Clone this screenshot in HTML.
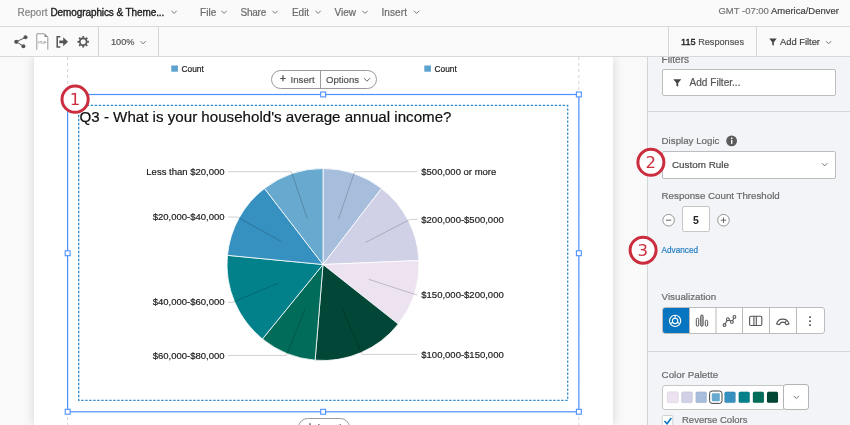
<!DOCTYPE html>
<html lang="en">
<head>
<meta charset="utf-8">
<title>Report - Demographics &amp; Themes</title>
<style>
*{box-sizing:border-box;margin:0;padding:0}
html,body{width:850px;height:425px;overflow:hidden;background:#f9f9f9;font-family:"Liberation Sans",Arial,sans-serif;color:#555}
.abs{position:absolute}
span.t{position:absolute;white-space:nowrap;font-size:10px;line-height:14px;-webkit-text-stroke:.2px currentColor}
#topbar{position:absolute;left:0;top:0;width:850px;height:27px;background:#fafafa;border-bottom:1px solid #dadada;color:#6b6b6b}
#toolbar{position:absolute;left:0;top:27px;width:850px;height:30px;background:#fafafa;border-bottom:1px solid #d8d8d8;color:#555}
#toolbar .sep{position:absolute;top:0;width:1px;height:29px;background:#d6d6d6}
#canvas{position:absolute;left:0;top:57px;width:647px;height:368px;background:#f9f9f9}
#page{position:absolute;left:34px;top:0;width:579px;height:368px;background:#fff;box-shadow:0 0 10px rgba(0,0,0,.15)}
#panel{overflow:hidden;position:absolute;left:647px;top:57px;width:203px;height:368px;background:#f3f4f8;border-left:1px solid #d3d4d8;color:#6a6a6a}
.box{position:absolute;background:#fff;border:1px solid #bdbdbd;border-radius:2px}
svg{position:absolute;overflow:visible}
</style>
</head>
<body>
<div id="canvas">
  <div id="page"></div>
</div>

<!-- page overlays drawn in absolute screen coordinates -->
<svg style="left:0;top:0" width="850" height="425" viewBox="0 0 850 425">
  <line x1="67.600" y1="57" x2="67.600" y2="425" stroke="#d4d4d4" stroke-width="1" stroke-dasharray="3 3"/>
  <line x1="578.800" y1="57" x2="578.800" y2="425" stroke="#d4d4d4" stroke-width="1" stroke-dasharray="3 3"/>
  <rect x="171.300" y="65.500" width="6.600" height="6.200" fill="#5ba2cf"/>
  <text x="181.600" y="71.500" font-family="Liberation Sans, Arial, sans-serif" font-size="8.300" fill="#222" stroke="#222" stroke-width=".2">Count</text>
  <rect x="424.300" y="65.500" width="6.600" height="6.200" fill="#5ba2cf"/>
  <text x="434.600" y="71.500" font-family="Liberation Sans, Arial, sans-serif" font-size="8.300" fill="#222" stroke="#222" stroke-width=".2">Count</text>
  <rect x="67.600" y="94.500" width="511.250" height="317.300" fill="#fff" stroke="#4d90fe" stroke-width="1.200"/>
  <rect x="78.700" y="105.400" width="489" height="294.900" fill="none" stroke="#2e8ccb" stroke-width="1.300" stroke-dasharray="2.400 1.600"/>
  <g fill="#fff" stroke="#4d90fe" stroke-width="1.100">
    <rect x="576.400" y="92" width="4.900" height="4.900"/>
    <rect x="320.700" y="92" width="4.900" height="4.900"/>
    <rect x="65.200" y="250.800" width="4.900" height="4.900"/>
    <rect x="576.400" y="250.800" width="4.900" height="4.900"/>
    <rect x="65.200" y="409.300" width="4.900" height="4.900"/>
    <rect x="320.700" y="409.300" width="4.900" height="4.900"/>
    <rect x="576.400" y="409.300" width="4.900" height="4.900"/>
  </g>
  <text x="79.500" y="122" font-family="Liberation Sans, Arial, sans-serif" font-size="15.130" fill="#111" stroke="#111" stroke-width="0.2">Q3 - What is your household's average annual income?</text>
</svg>
<svg class="pie" style="left:0;top:0" width="850" height="425" viewBox="0 0 850 425">
<g><path d="M323,264.5 L323.00,168.50 A96,96 0 0 1 381.53,188.40 Z" fill="#a6bddb" stroke="#fff" stroke-width="0.8" stroke-linejoin="round"/>
<path d="M323,264.5 L381.53,188.40 A96,96 0 0 1 418.92,260.57 Z" fill="#d0d1e6" stroke="#fff" stroke-width="0.8" stroke-linejoin="round"/>
<path d="M323,264.5 L418.92,260.57 A96,96 0 0 1 398.29,324.06 Z" fill="#ece2f0" stroke="#fff" stroke-width="0.8" stroke-linejoin="round"/>
<path d="M323,264.5 L398.29,324.06 A96,96 0 0 1 315.14,360.18 Z" fill="#014636" stroke="#fff" stroke-width="0.8" stroke-linejoin="round"/>
<path d="M323,264.5 L315.14,360.18 A96,96 0 0 1 262.42,338.97 Z" fill="#016c59" stroke="#fff" stroke-width="0.8" stroke-linejoin="round"/>
<path d="M323,264.5 L262.42,338.97 A96,96 0 0 1 227.44,255.34 Z" fill="#02818a" stroke="#fff" stroke-width="0.8" stroke-linejoin="round"/>
<path d="M323,264.5 L227.44,255.34 A96,96 0 0 1 264.47,188.40 Z" fill="#3690c0" stroke="#fff" stroke-width="0.8" stroke-linejoin="round"/>
<path d="M323,264.5 L264.47,188.40 A96,96 0 0 1 323.00,168.50 Z" fill="#67a9cf" stroke="#fff" stroke-width="0.8" stroke-linejoin="round"/></g>
<g fill="none" stroke="#000" stroke-opacity="0.19" stroke-width="1"><polyline points="338.5,219.1 354.6,171.7 417.5,171.7"/>
<polyline points="365.6,242.4 410.0,219.4 417.5,219.4"/>
<polyline points="368.7,279.3 416.2,294.8 417.5,294.8"/>
<polyline points="342.1,308.5 362.0,354.4 417.5,354.4"/>
<polyline points="305.1,309.0 286.4,355.4 228.2,355.4"/>
<polyline points="278.7,283.0 232.6,302.3 228.2,302.3"/>
<polyline points="281.0,241.3 237.3,217.1 228.2,217.1"/>
<polyline points="307.5,219.1 291.4,171.7 228.2,171.7"/></g>
<g font-family="Liberation Sans, Arial, sans-serif" font-size="9.5" fill="#1a1a1a" stroke="#1a1a1a" stroke-width="0.18"><text x="421.3" y="174.8" text-anchor="start">$500,000 or more</text>
<text x="421.3" y="222.5" text-anchor="start">$200,000-$500,000</text>
<text x="421.3" y="297.9" text-anchor="start">$150,000-$200,000</text>
<text x="421.3" y="357.5" text-anchor="start">$100,000-$150,000</text>
<text x="224.5" y="358.5" text-anchor="end">$60,000-$80,000</text>
<text x="224.5" y="305.4" text-anchor="end">$40,000-$60,000</text>
<text x="224.5" y="220.2" text-anchor="end">$20,000-$40,000</text>
<text x="224.5" y="174.8" text-anchor="end">Less than $20,000</text></g>
</svg>

<!-- insert/options pill -->
<div class="abs" style="left:271px;top:70px;width:106px;height:19px;border:1px solid #9b9b9b;border-radius:10px;background:#fff;color:#555">
  <span class="t" style="left:8px;top:1.200px;font-size:10px;-webkit-text-stroke:.4px currentColor">+</span>
  <span class="t" style="left:18.500px;top:1.500px;font-size:9.700px">Insert</span>
  <span class="abs" style="left:48px;top:0;width:1px;height:17px;background:#9b9b9b"></span>
  <span class="t" style="left:54px;top:1.5px;font-size:9.6px">Options</span>
  <svg style="left:91px;top:6px" width="8" height="6" viewBox="0 0 8 6"><path d="M1 1.2 L4 4.2 L7 1.2" fill="none" stroke="#666" stroke-width="1"/></svg>
</div>
<div class="abs" style="left:298px;top:417.500px;width:52px;height:19px;border:1px solid #9b9b9b;border-radius:10px;background:#fff;color:#555">
  <span class="t" style="left:8px;top:1.200px;font-size:10px;-webkit-text-stroke:.4px currentColor">+</span>
  <span class="t" style="left:18.500px;top:1.500px;font-size:9.700px">Insert</span>
</div>

<div id="topbar">
  <span class="t" style="left:17.5px;top:5.500px;color:#858585">Report</span>
  <span class="t" style="left:50.5px;top:5.500px;color:#222;letter-spacing:-.1px;-webkit-text-stroke:.35px #222">Demographics &amp; Theme...</span>
  <span class="t" style="left:200px;top:5.500px;letter-spacing:.1px">File</span>
  <span class="t" style="left:240.5px;top:5.500px;letter-spacing:-.24px">Share</span>
  <span class="t" style="left:292px;top:5.500px;letter-spacing:-.05px">Edit</span>
  <span class="t" style="left:334.5px;top:5.500px">View</span>
  <span class="t" style="left:381.5px;top:5.500px;letter-spacing:.08px">Insert</span>
  <span class="t" style="left:718.5px;top:4.200px;font-size:9.48px;color:#777">GMT -07:00 <span style="color:#444">America/Denver</span></span>
  <svg style="left:0;top:0" width="850" height="27" viewBox="0 0 850 27"><g fill="none" stroke="#666" stroke-width=".9">
    <path d="M171.500 10.800l2.600 2.600 2.600-2.600"/><path d="M221.500 10.800l2.600 2.600 2.600-2.600"/><path d="M272.500 10.800l2.600 2.600 2.600-2.600"/><path d="M315.500 10.800l2.600 2.600 2.600-2.600"/><path d="M362.500 10.800l2.600 2.600 2.600-2.600"/><path d="M414 10.800l2.600 2.600 2.600-2.600"/>
  </g></svg>
</div>
<div id="toolbar">
  <div class="sep" style="left:98px"></div>
  <span class="t" style="left:111px;top:8px;font-size:9.2px">100%</span>
  <div class="sep" style="left:158px"></div>
  <div class="sep" style="left:668px"></div>
  <span class="t" style="left:681px;top:8px;font-size:9.16px"><span style="color:#222;-webkit-text-stroke:.35px #222">115</span> Responses</span>
  <div class="sep" style="left:756px"></div>
  <span class="t" style="left:780px;top:8px;font-size:9.35px;color:#444">Add Filter</span>
  <svg style="left:0;top:0" width="850" height="30" viewBox="0 27 850 30">
    <g fill="none" stroke="#666" stroke-width=".9"><path d="M140.500 41.200l2.600 2.600 2.600-2.600"/><path d="M826 41.200l2.600 2.600 2.600-2.600"/></g>
    <path d="M769.300 38.600h7.400l-2.900 3.600v3.500l-1.600-.9v-2.600z" fill="#444"/>
    <!-- share -->
    <g fill="#555" stroke="#555"><path d="M25.500 37.300L16.300 41.800L23.400 46.200" fill="none" stroke-width="1"/><circle cx="25.500" cy="37.300" r="2" stroke="none"/><circle cx="16.300" cy="41.800" r="2.100" stroke="none"/><circle cx="23.400" cy="46.200" r="2" stroke="none"/></g>
    <!-- pdf -->
    <path d="M36.800 49.700v-15.900h7.700l3.300 3.300v12.600" fill="#fff" stroke="#8c8c8c" stroke-width=".9"/>
    <path d="M44.500 33.800v3.300h3.300z" fill="#8c8c8c"/>
    <text x="38.200" y="43.600" font-family="Liberation Sans, Arial, sans-serif" font-size="4.200" fill="#777">PDF</text>
    <!-- export -->
    <path d="M60.300 36.800h-3.100v10.100h3.100" fill="none" stroke="#555" stroke-width="1.500"/>
    <path d="M59.300 40.400h3.900v-3.100l4.800 4.500l-4.800 4.500v-3.100h-3.900z" fill="#555"/>
    <!-- gear -->
    <g transform="translate(83.200 41.800)"><circle r="3.400" fill="none" stroke="#555" stroke-width="1.700"/>
      <g stroke="#555" stroke-width="1.900"><path d="M0 -4V-5.700"/><path d="M0 4V5.700"/><path d="M-4 0H-5.700"/><path d="M4 0H5.700"/><path d="M2.830 -2.830L4.030 -4.030"/><path d="M-2.830 -2.830L-4.030 -4.030"/><path d="M2.830 2.830L4.030 4.030"/><path d="M-2.830 2.830L-4.030 4.030"/></g></g>
  </svg>
</div>

<div id="panel">
  <span class="t" style="left:13.600px;top:-4px;font-size:10.1px">Filters</span>
  <div class="box" style="left:14px;top:12px;width:174px;height:26.500px"></div>
  <span class="t" style="left:41.500px;top:18.500px;font-size:10.08px;color:#555">Add Filter...</span>
  <div class="abs" style="left:0;top:53.500px;width:203px;height:1px;background:#d4d5d9"></div>
  <span class="t" style="left:13.600px;top:77px;font-size:9.72px">Display Logic</span>
  <div class="box" style="left:14px;top:94px;width:174px;height:27.500px"></div>
  <span class="t" style="left:24px;top:101px;font-size:9.86px;color:#4a4a4a">Custom Rule</span>
  <span class="t" style="left:13.600px;top:132px;font-size:9.72px">Response Count Threshold</span>
  <div class="box" style="left:34px;top:149px;width:28px;height:26px;border-color:#c6c6c6;color:#222;text-align:center;line-height:26.500px;font-size:10.5px;font-weight:bold">5</div>
  <span class="t" style="left:13.600px;top:186.500px;font-size:8.2px;color:#2a82c4">Advanced</span>
  <span class="t" style="left:13.600px;top:232.500px;font-size:9.76px">Visualization</span>
  <div class="box" style="left:14px;top:250px;width:163px;height:27px;border-color:#bdbdbd;border-radius:3px"></div>
  <div class="abs" style="left:14.500px;top:251px;width:27px;height:25px;border-radius:2px 0 0 2px;background:#0775bf"></div>
  <div class="abs" style="left:0;top:293.500px;width:203px;height:1px;background:#d4d5d9"></div>
  <span class="t" style="left:13.600px;top:311px;font-size:9.79px">Color Palette</span>
  <div class="box" style="left:14px;top:328px;width:122px;height:25px;border-color:#c6c6c6;border-radius:3px 0 0 3px"></div>
  <div class="box" style="left:135px;top:327px;width:26px;height:26px;border-color:#b4b4b4;border-radius:3px"></div>
  <span class="t" style="left:34px;top:356px;font-size:9.5px">Reverse Colors</span>
  <svg style="left:0;top:0" width="202" height="368" viewBox="648 57 202 368">
    <!-- funnel -->
    <path d="M673.300 79.200h8l-3.100 3.800v3.700l-1.800-1v-2.700z" fill="#444"/>
    <!-- info -->
    <circle cx="731.600" cy="140.900" r="5.400" fill="#5c5c5c"/><rect x="731" y="140" width="1.400" height="3.900" fill="#fff"/><circle cx="731.700" cy="138.300" r=".9" fill="#fff"/>
    <path d="M822 163.200l2.700 2.700 2.700-2.700" fill="none" stroke="#666" stroke-width=".9"/>
    <!-- minus / plus -->
    <g fill="#fff" stroke="#8a8a8a" stroke-width=".9"><circle cx="668.600" cy="220.200" r="5.800"/><circle cx="723.500" cy="220.200" r="5.800"/></g>
    <g stroke="#666" stroke-width="1" fill="none"><path d="M665.900 220.200h5.400"/><path d="M720.800 220.200h5.400M723.500 217.500v5.400"/></g>
    <!-- viz dividers -->
    <g stroke="#b9b9b9" stroke-width="1"><path d="M689.500 307.500v26"/><path d="M716 307.500v26"/><path d="M742.500 307.500v26"/><path d="M769.500 307.500v26"/><path d="M796.500 307.500v26"/></g>
    <!-- pie icon -->
    <g fill="none" stroke="#fff" stroke-width="1.100"><circle cx="675.100" cy="320.900" r="5.600"/><circle cx="675.100" cy="320.900" r="2.700"/><path d="M675.100 315.300v2.900M677.400 322.300l2.500 1.500M672.800 322.300l-2.500 1.500"/></g>
    <!-- bars icon -->
    <g fill="#fff" stroke="#555" stroke-width="1"><rect x="696.300" y="318.200" width="2.400" height="8" rx="1.200"/><rect x="700.700" y="315" width="2.400" height="11.200" rx="1.200" fill="#bbb"/><rect x="705.300" y="320.200" width="2.400" height="6" rx="1.200"/></g>
    <!-- line icon -->
    <g fill="#fff" stroke="#555" stroke-width="1.100"><path d="M724.500 325L727.900 319.200L731.900 321.900L734.400 316.900" fill="none"/><circle cx="724.500" cy="325" r="1.400"/><circle cx="727.900" cy="319.200" r="1.400"/><circle cx="731.900" cy="321.900" r="1.400"/><circle cx="734.400" cy="316.900" r="1.400"/></g>
    <!-- table icon -->
    <g fill="none" stroke="#555" stroke-width="1.100"><rect x="749.600" y="316.300" width="12.200" height="9.200" rx="1.200"/><path d="M753.900 316.300v9.200M756.300 316.300v9.200"/></g>
    <!-- gauge icon -->
    <g fill="none" stroke="#555" stroke-width="1.100" stroke-linejoin="round"><path d="M776.600 323.900A6.400 6.400 0 0 1 789 323.900L786.100 324.700A3.400 3.400 0 0 0 779.500 324.700Z"/><path d="M784.800 322.800L786.500 320.400"/></g>
    <!-- ellipsis -->
    <g fill="#555"><rect x="809.200" y="316.300" width="1.700" height="1.700"/><rect x="809.200" y="320.300" width="1.700" height="1.700"/><rect x="809.200" y="324.300" width="1.700" height="1.700"/></g>
    <!-- swatches -->
    <g stroke="rgba(0,0,0,.12)" stroke-width=".6">
      <rect x="667.300" y="391.800" width="11" height="11" rx="1.500" fill="#ece2f0"/>
      <rect x="681.500" y="391.800" width="11" height="11" rx="1.500" fill="#d0d1e6"/>
      <rect x="695.700" y="391.800" width="11" height="11" rx="1.500" fill="#a6bddb"/>
      <rect x="724.500" y="391.800" width="11" height="11" rx="1.500" fill="#3690c0"/>
      <rect x="738.700" y="391.800" width="11" height="11" rx="1.500" fill="#02818a"/>
      <rect x="752.900" y="391.800" width="11" height="11" rx="1.500" fill="#016c59"/>
      <rect x="767" y="391.800" width="11" height="11" rx="1.500" fill="#014636"/>
    </g>
    <rect x="709.600" y="391" width="12.400" height="12.400" rx="2.500" fill="#fff" stroke="#444" stroke-width="1"/>
    <rect x="711.800" y="393.200" width="8" height="8" rx="1" fill="#67a9cf"/>
    <path d="M793.700 395.900l2.600 2.600 2.600-2.600" fill="none" stroke="#666" stroke-width=".9"/>
    <!-- checkbox -->
    <rect x="662.300" y="415.500" width="10.500" height="11" rx="1" fill="#fff" stroke="#d0d0d0" stroke-width="1"/>
    <path d="M664.500 421l2.500 2.700l4.300-5.800" fill="none" stroke="#0b77c3" stroke-width="1.600"/>
  </svg>
</div>

<svg style="left:0;top:0" width="850" height="425" viewBox="0 0 850 425">
  <g fill="#fff" stroke="#cb2d3e" stroke-width="3">
    <circle cx="75.100" cy="99.200" r="13.100"/>
    <circle cx="650.900" cy="162.300" r="13"/>
    <circle cx="643.100" cy="250.200" r="13"/>
  </g>
  <g font-family="DejaVu Sans, Liberation Sans, sans-serif" font-size="16.500" fill="#cb2d3e" text-anchor="middle">
    <text x="75" y="105.300">1</text>
    <text x="650.700" y="168.200">2</text>
    <text x="642.700" y="256.200">3</text>
  </g>
</svg>
</body>
</html>
